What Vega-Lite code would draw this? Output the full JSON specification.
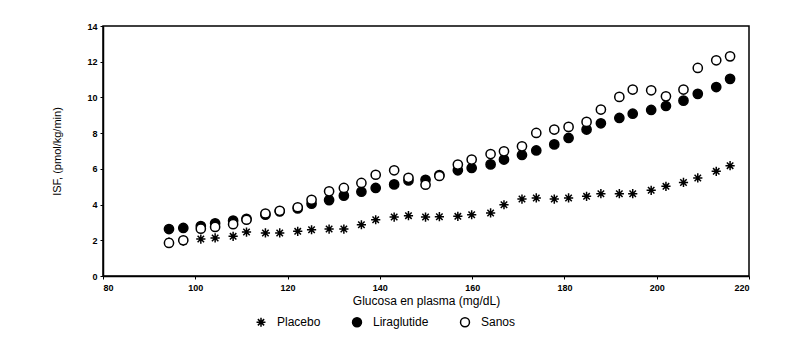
{
  "$schema": "https://vega.github.io/schema/vega-lite/v6.json",
  "width": 646,
  "height": 250,
  "autosize": {"type": "none"},
  "padding": {"left": 103, "top": 26, "right": 61, "bottom": 68},
  "background": "white",
  "config": {
    "font": "Liberation Sans",
    "view": {"stroke": "black", "strokeWidth": 1.5},
    "axis": {"grid": false, "domainColor": "black", "domainWidth": 1.5, "tickColor": "black", "labelColor": "black", "titleColor": "black"},
    "legend": {"title": null, "orient": "none", "legendX": 152, "legendY": 290, "direction": "horizontal", "labelFontSize": 12, "labelColor": "black", "symbolSize": 80, "symbolStrokeWidth": 1.5, "columnPadding": 28, "labelOffset": 10}
  },
  "datasets": {
    "pts": [
      {"g": "Placebo", "x": 94.3, "y": 1.9},
      {"g": "Placebo", "x": 97.4, "y": 1.95},
      {"g": "Placebo", "x": 101.2, "y": 2.07},
      {"g": "Placebo", "x": 104.3, "y": 2.13},
      {"g": "Placebo", "x": 108.2, "y": 2.22},
      {"g": "Placebo", "x": 111.1, "y": 2.46},
      {"g": "Placebo", "x": 115.2, "y": 2.41},
      {"g": "Placebo", "x": 118.3, "y": 2.41},
      {"g": "Placebo", "x": 122.2, "y": 2.5},
      {"g": "Placebo", "x": 125.2, "y": 2.59},
      {"g": "Placebo", "x": 129.0, "y": 2.63},
      {"g": "Placebo", "x": 132.2, "y": 2.63},
      {"g": "Placebo", "x": 136.0, "y": 2.87},
      {"g": "Placebo", "x": 139.1, "y": 3.15},
      {"g": "Placebo", "x": 143.1, "y": 3.3},
      {"g": "Placebo", "x": 146.2, "y": 3.38},
      {"g": "Placebo", "x": 149.9, "y": 3.3},
      {"g": "Placebo", "x": 152.9, "y": 3.32},
      {"g": "Placebo", "x": 156.9, "y": 3.34},
      {"g": "Placebo", "x": 159.9, "y": 3.43},
      {"g": "Placebo", "x": 164.0, "y": 3.53},
      {"g": "Placebo", "x": 166.9, "y": 3.99},
      {"g": "Placebo", "x": 170.8, "y": 4.31},
      {"g": "Placebo", "x": 173.9, "y": 4.37},
      {"g": "Placebo", "x": 177.8, "y": 4.31},
      {"g": "Placebo", "x": 180.9, "y": 4.37},
      {"g": "Placebo", "x": 184.8, "y": 4.46},
      {"g": "Placebo", "x": 187.9, "y": 4.61},
      {"g": "Placebo", "x": 191.9, "y": 4.61},
      {"g": "Placebo", "x": 194.8, "y": 4.61},
      {"g": "Placebo", "x": 198.8, "y": 4.8},
      {"g": "Placebo", "x": 202.0, "y": 5.02},
      {"g": "Placebo", "x": 205.8, "y": 5.24},
      {"g": "Placebo", "x": 208.9, "y": 5.49},
      {"g": "Placebo", "x": 212.9, "y": 5.86},
      {"g": "Placebo", "x": 215.9, "y": 6.18},
      {"g": "Liraglutide", "x": 94.3, "y": 2.63},
      {"g": "Liraglutide", "x": 97.4, "y": 2.69},
      {"g": "Liraglutide", "x": 101.2, "y": 2.8},
      {"g": "Liraglutide", "x": 104.3, "y": 2.95},
      {"g": "Liraglutide", "x": 108.2, "y": 3.1},
      {"g": "Liraglutide", "x": 111.1, "y": 3.2},
      {"g": "Liraglutide", "x": 115.2, "y": 3.43},
      {"g": "Liraglutide", "x": 118.3, "y": 3.62},
      {"g": "Liraglutide", "x": 122.2, "y": 3.78},
      {"g": "Liraglutide", "x": 125.2, "y": 4.05},
      {"g": "Liraglutide", "x": 129.0, "y": 4.25},
      {"g": "Liraglutide", "x": 132.2, "y": 4.5},
      {"g": "Liraglutide", "x": 136.0, "y": 4.72},
      {"g": "Liraglutide", "x": 139.1, "y": 4.93},
      {"g": "Liraglutide", "x": 143.1, "y": 5.13},
      {"g": "Liraglutide", "x": 146.2, "y": 5.35},
      {"g": "Liraglutide", "x": 149.9, "y": 5.39},
      {"g": "Liraglutide", "x": 152.9, "y": 5.65},
      {"g": "Liraglutide", "x": 156.9, "y": 5.92},
      {"g": "Liraglutide", "x": 159.9, "y": 6.05},
      {"g": "Liraglutide", "x": 164.0, "y": 6.25},
      {"g": "Liraglutide", "x": 166.9, "y": 6.52},
      {"g": "Liraglutide", "x": 170.8, "y": 6.78},
      {"g": "Liraglutide", "x": 173.9, "y": 7.03},
      {"g": "Liraglutide", "x": 177.8, "y": 7.37},
      {"g": "Liraglutide", "x": 180.9, "y": 7.73},
      {"g": "Liraglutide", "x": 184.8, "y": 8.2},
      {"g": "Liraglutide", "x": 187.9, "y": 8.55},
      {"g": "Liraglutide", "x": 191.9, "y": 8.85},
      {"g": "Liraglutide", "x": 194.8, "y": 9.09},
      {"g": "Liraglutide", "x": 198.8, "y": 9.3},
      {"g": "Liraglutide", "x": 202.0, "y": 9.52},
      {"g": "Liraglutide", "x": 205.8, "y": 9.82},
      {"g": "Liraglutide", "x": 208.9, "y": 10.2},
      {"g": "Liraglutide", "x": 212.9, "y": 10.58},
      {"g": "Liraglutide", "x": 215.9, "y": 11.04},
      {"g": "Sanos", "x": 94.3, "y": 1.85},
      {"g": "Sanos", "x": 97.4, "y": 2.0},
      {"g": "Sanos", "x": 101.2, "y": 2.65},
      {"g": "Sanos", "x": 104.3, "y": 2.75},
      {"g": "Sanos", "x": 108.2, "y": 2.9},
      {"g": "Sanos", "x": 111.1, "y": 3.15},
      {"g": "Sanos", "x": 115.2, "y": 3.5},
      {"g": "Sanos", "x": 118.3, "y": 3.65},
      {"g": "Sanos", "x": 122.2, "y": 3.85},
      {"g": "Sanos", "x": 125.2, "y": 4.27},
      {"g": "Sanos", "x": 129.0, "y": 4.74},
      {"g": "Sanos", "x": 132.2, "y": 4.93},
      {"g": "Sanos", "x": 136.0, "y": 5.21},
      {"g": "Sanos", "x": 139.1, "y": 5.67},
      {"g": "Sanos", "x": 143.1, "y": 5.92},
      {"g": "Sanos", "x": 146.2, "y": 5.5},
      {"g": "Sanos", "x": 149.9, "y": 5.11},
      {"g": "Sanos", "x": 152.9, "y": 5.6},
      {"g": "Sanos", "x": 156.9, "y": 6.24},
      {"g": "Sanos", "x": 159.9, "y": 6.52},
      {"g": "Sanos", "x": 164.0, "y": 6.83},
      {"g": "Sanos", "x": 166.9, "y": 6.98},
      {"g": "Sanos", "x": 170.8, "y": 7.26},
      {"g": "Sanos", "x": 173.9, "y": 8.01},
      {"g": "Sanos", "x": 177.8, "y": 8.2},
      {"g": "Sanos", "x": 180.9, "y": 8.35},
      {"g": "Sanos", "x": 184.8, "y": 8.63},
      {"g": "Sanos", "x": 187.9, "y": 9.32},
      {"g": "Sanos", "x": 191.9, "y": 10.03},
      {"g": "Sanos", "x": 194.8, "y": 10.44},
      {"g": "Sanos", "x": 198.8, "y": 10.4},
      {"g": "Sanos", "x": 202.0, "y": 10.06},
      {"g": "Sanos", "x": 205.8, "y": 10.44},
      {"g": "Sanos", "x": 208.9, "y": 11.65},
      {"g": "Sanos", "x": 212.9, "y": 12.08},
      {"g": "Sanos", "x": 215.9, "y": 12.3}
    ]
  },
  "data": {"name": "pts"},
  "mark": {"type": "point", "filled": true, "strokeWidth": 1.5, "size": 85, "opacity": 1},
  "encoding": {
    "x": {
      "field": "x", "type": "quantitative",
      "scale": {"domain": [80, 220], "nice": false, "zero": false},
      "axis": {"values": [80, 100, 120, 140, 160, 180, 200, 220], "title": "Glucosa en plasma (mg/dL)", "titleFontSize": 12, "titleFontWeight": "normal", "titlePadding": 3, "labelFontSize": 9, "labelFontWeight": "bold", "tickSize": 3, "labelPadding": 4}
    },
    "y": {
      "field": "y", "type": "quantitative",
      "scale": {"domain": [0, 14], "nice": false},
      "axis": {"values": [0, 2, 4, 6, 8, 10, 12, 14], "title": "ISF, (pmol/kg/min)", "titleFontSize": 11, "titleFontWeight": "normal", "titleX": -46, "titleY": 125, "titleAlign": "center", "titleBaseline": "middle", "labelFontSize": 9, "labelFontWeight": "bold", "tickSize": 3, "labelPadding": 3}
    },
    "shape": {
      "field": "g", "type": "nominal",
      "scale": {"domain": ["Placebo", "Liraglutide", "Sanos"], "range": ["M-1,0H1M0,-1V1M-0.7,-0.7L0.7,0.7M-0.7,0.7L0.7,-0.7", "circle", "circle"]}
    },
    "fill": {
      "field": "g", "type": "nominal",
      "scale": {"domain": ["Placebo", "Liraglutide", "Sanos"], "range": ["black", "black", "white"]}
    },
    "stroke": {
      "field": "g", "type": "nominal",
      "scale": {"domain": ["Placebo", "Liraglutide", "Sanos"], "range": ["black", "black", "black"]}
    }
  }
}
